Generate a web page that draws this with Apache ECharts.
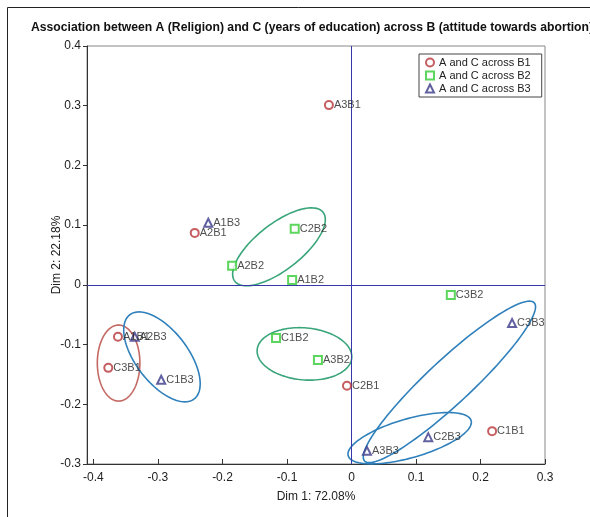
<!DOCTYPE html>
<html>
<head>
<meta charset="utf-8">
<script src="https://cdn.jsdelivr.net/npm/echarts@6/dist/echarts.min.js"></script>
<style>html,body{margin:0;padding:0;background:#fff;}#c{width:590px;height:517px;}</style>
</head>
<body>
<div id="c"></div>
<script>
// ---- data ----
const b1Names = ['A1B1', 'A2B1', 'A3B1', 'C1B1', 'C2B1', 'C3B1'];
const b1X = [-0.362, -0.243, -0.035, 0.218, -0.007, -0.377];
const b1Y = [-0.087, 0.087, 0.301, -0.245, -0.169, -0.139];

const b2Names = ['A1B2', 'A2B2', 'A3B2', 'C1B2', 'C2B2', 'C3B2'];
const b2X = [-0.092, -0.185, -0.052, -0.117, -0.088, 0.154];
const b2Y = [0.008, 0.032, -0.126, -0.089, 0.094, -0.017];

const b3Names = ['A1B3', 'A2B3', 'A3B3', 'C1B3', 'C2B3', 'C3B3'];
const b3X = [-0.222, -0.336, 0.024, -0.295, 0.119, 0.249];
const b3Y = [0.104, -0.087, -0.278, -0.159, -0.255, -0.064];

// ellipses: centre and two conjugate semi-axis vectors (data units)
const ellGroup = ['B1', 'B3', 'B2', 'B2', 'B3', 'B3'];
const ellCX = [-0.361, -0.2938, -0.1124, -0.0729, 0.1518, 0.0902];
const ellCY = [-0.131, -0.1206, 0.0637, -0.1156, -0.1625, -0.2568];
const ellUX = [0.033, 0.0499, 0.0684, 0.0733, 0.1315, 0.0953];
const ellUY = [0, -0.0705, 0.0578, -0.0069, 0.1325, 0.0295];
const ellVX = [0, -0.0320, 0.0220, -0.0036, 0.0233, 0.0084];
const ellVY = [-0.0637, -0.0265, -0.0303, -0.0434, -0.0270, -0.0313];

const seriesNames = ['A and C across B1', 'A and C across B2', 'A and C across B3'];
const xTicks = [-0.4, -0.3, -0.2, -0.1, 0, 0.1, 0.2, 0.3];

// ---- build ----
const FONT = "'Liberation Sans', Arial, sans-serif";
const markColors = { B1: '#b8363a', B2: '#33cc33', B3: '#3a3a8a' };
const ellColors = { B1: '#c46a64', B2: '#3aa57a', B3: '#2f80bb' };

function pts(names, xs, ys) {
  return names.map((n, i) => ({ name: n, value: [xs[i], ys[i]] }));
}
const ellData = ellCX.map((c, i) => [c, ellCY[i], ellUX[i], ellUY[i], ellVX[i], ellVY[i], i]);

function scatter(name, data, symbol, color, extra) {
  return Object.assign({
    name: name,
    type: 'scatter',
    data: data,
    symbol: symbol,
    symbolSize: 8,
    z: 5,
    itemStyle: { color: color, borderColor: color, borderWidth: 1 },
    label: {
      show: true, position: 'right', distance: 0,
      formatter: p => p.name,
      fontFamily: FONT, fontSize: 11, color: '#222'
    },
    emphasis: { disabled: true }
  }, extra || {});
}

const chart = echarts.init(document.getElementById('c'), null, { renderer: 'canvas' });
chart.setOption({
  animation: false,
  backgroundColor: '#fff',
  title: {
    text: 'Association between A (Religion) and C (years of education) across B (attitude towards abortion)',
    left: 31, top: 22, padding: 0,
    textStyle: { fontFamily: FONT, fontSize: 12.2, fontWeight: 'bold', color: '#111' }
  },
  graphic: [
    { type: 'line', shape: { x1: 7.5, y1: 7.5, x2: 590, y2: 7.5 }, style: { stroke: '#222', lineWidth: 1 } },
    { type: 'line', shape: { x1: 7.5, y1: 7.5, x2: 7.5, y2: 517 }, style: { stroke: '#222', lineWidth: 1 } }
  ],
  legend: {
    orient: 'vertical',
    left: 419, top: 54,
    padding: [3, 11, 3, 6],
    itemGap: 2,
    itemWidth: 8, itemHeight: 8,
    itemStyle: { borderWidth: 1 },
    data: seriesNames,
    borderColor: '#444', borderWidth: 1,
    backgroundColor: '#fff',
    textStyle: { fontFamily: FONT, fontSize: 11, color: '#222', lineHeight: 11 }
  },
  grid: {
    left: 87, right: 45, top: 46, bottom: 53,
    show: true, borderColor: '#888', borderWidth: 1
  },
  xAxis: {
    type: 'value', min: -0.41, max: 0.3,
    name: 'Dim 1: 72.08%', nameLocation: 'middle', nameGap: 27, nameMoveOverlap: false,
    nameTextStyle: { fontFamily: FONT, fontSize: 12, color: '#222' },
    axisLine: { show: true, onZero: false, lineStyle: { color: '#333' } },
    axisTick: { show: true, inside: true, length: 5, customValues: xTicks, lineStyle: { color: '#333' } },
    axisLabel: { customValues: xTicks, margin: 8, fontFamily: FONT, fontSize: 12, color: '#222',
      formatter: v => String(+(+v).toFixed(1)) },
    splitLine: { show: false }
  },
  yAxis: {
    type: 'value', min: -0.3, max: 0.4, interval: 0.1,
    name: 'Dim 2: 22.18%', nameLocation: 'middle', nameGap: 24, nameMoveOverlap: false,
    nameTextStyle: { fontFamily: FONT, fontSize: 12, color: '#222' },
    axisLine: { show: true, onZero: false, lineStyle: { color: '#333' } },
    axisTick: { show: true, inside: false, length: 4, lineStyle: { color: '#333' } },
    axisLabel: { margin: 6, fontFamily: FONT, fontSize: 12, color: '#222',
      formatter: v => String(+(+v).toFixed(1)) },
    splitLine: { show: false }
  },
  series: [
    {
      name: 'ellipses', type: 'custom', z: 3, silent: true,
      data: ellData,
      renderItem: function (params, api) {
        const cx = api.value(0), cy = api.value(1);
        const ux = api.value(2), uy = api.value(3), vx = api.value(4), vy = api.value(5);
        const idx = api.value(6);
        const points = [];
        for (let k = 0; k <= 120; k++) {
          const t = k / 120 * Math.PI * 2;
          const c = Math.cos(t), s = Math.sin(t);
          points.push(api.coord([cx + ux * c + vx * s, cy + uy * c + vy * s]));
        }
        return {
          type: 'polyline',
          shape: { points: points },
          style: { fill: 'none', stroke: ellColors[ellGroup[idx]], lineWidth: 1.6 }
        };
      }
    },
    scatter(seriesNames[0], pts(b1Names, b1X, b1Y), 'emptyCircle', markColors.B1, {
      markLine: {
        silent: true, symbol: 'none', animation: false,
        label: { show: false },
        lineStyle: { color: '#3838a8', width: 1, type: 'solid' },
        emphasis: { disabled: true },
        data: [{ xAxis: 0 }, { yAxis: 0 }]
      }
    }),
    scatter(seriesNames[1], pts(b2Names, b2X, b2Y), 'emptyRect', markColors.B2),
    scatter(seriesNames[2], pts(b3Names, b3X, b3Y), 'emptyTriangle', markColors.B3)
  ]
});
</script>
</body>
</html>
